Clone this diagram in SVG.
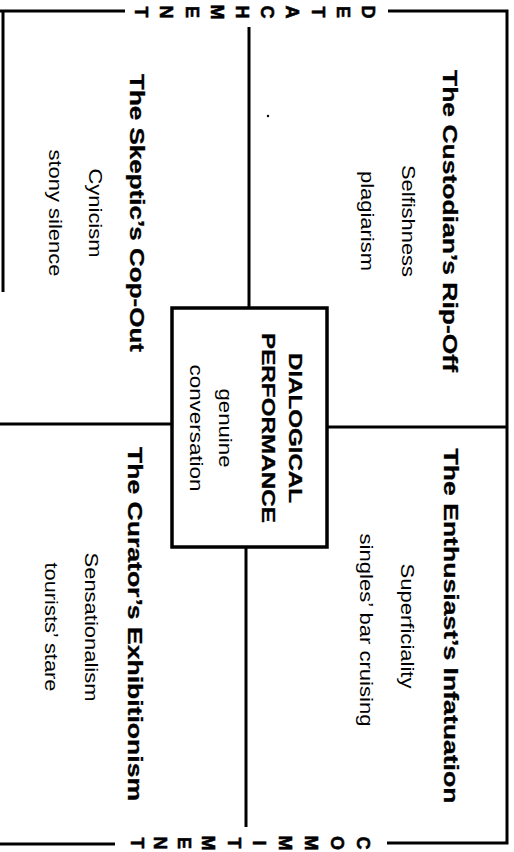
<svg xmlns="http://www.w3.org/2000/svg" width="514" height="852" viewBox="0 0 514 852">
<style>
.ln{stroke:#000;stroke-width:3;fill:none}
.t{font-family:"Liberation Sans",Arial,sans-serif;fill:#000;text-anchor:middle}
.b{font-weight:bold;font-size:20px;stroke:#000;stroke-width:0.3}
.cb{font-weight:bold;font-size:18.5px;stroke:#000;stroke-width:0.3}
.r{font-size:17.5px}
.lt{font-family:"Liberation Sans",Arial,sans-serif;font-weight:bold;font-size:18px;text-anchor:middle;fill:#000;stroke:#000;stroke-width:0.6}
</style>
<rect width="514" height="852" fill="#fff"/>
<g id="frame" class="ln">
<path d="M0 11 H125 M388 11 H507 V843 H387 M115 844 H0 M3 11 V292"/>
</g>
<g id="connectors" class="ln">
<path d="M249 27 V308"/>
<path d="M246 547 V827"/>
<path d="M0 424 H172"/>
<path d="M327 427 H507"/>
</g>
<g id="label-detachment">
<text class="lt" transform="translate(362,12) rotate(90)">D</text>
<text class="lt" transform="translate(337,12) rotate(90)">E</text>
<text class="lt" transform="translate(312,12) rotate(90)">T</text>
<text class="lt" transform="translate(286,12) rotate(90)">A</text>
<text class="lt" transform="translate(261,12) rotate(90)">C</text>
<text class="lt" transform="translate(236,12) rotate(90)">H</text>
<text class="lt" transform="translate(211,12) rotate(90)">M</text>
<text class="lt" transform="translate(186,12) rotate(90)">E</text>
<text class="lt" transform="translate(160,12) rotate(90)">N</text>
<text class="lt" transform="translate(135,12) rotate(90)">T</text>
</g>
<g id="label-commitment">
<text class="lt" transform="translate(357,843) rotate(90)">C</text>
<text class="lt" transform="translate(331,843) rotate(90)">O</text>
<text class="lt" transform="translate(305,843) rotate(90)">M</text>
<text class="lt" transform="translate(279,843) rotate(90)">M</text>
<text class="lt" transform="translate(253,843) rotate(90)">I</text>
<text class="lt" transform="translate(228,843) rotate(90)">T</text>
<text class="lt" transform="translate(202,843) rotate(90)">M</text>
<text class="lt" transform="translate(178,843) rotate(90)">E</text>
<text class="lt" transform="translate(154,843) rotate(90)">N</text>
<text class="lt" transform="translate(131,843) rotate(90)">T</text>
</g>
<g id="node-dialogical">
<rect x="172" y="308" width="155" height="239" fill="#fff" stroke="#000" stroke-width="3.5"/>
<text class="t cb" transform="translate(289,428) rotate(90)" textLength="150" lengthAdjust="spacingAndGlyphs">DIALOGICAL</text>
<text class="t cb" transform="translate(262,428) rotate(90)" textLength="190" lengthAdjust="spacingAndGlyphs">PERFORMANCE</text>
<text class="t r" transform="translate(219,428) rotate(90)" textLength="79" lengthAdjust="spacingAndGlyphs">genuine</text>
<text class="t r" transform="translate(190,428) rotate(90)" textLength="127" lengthAdjust="spacingAndGlyphs">conversation</text>
</g>
<g id="node-custodian">
<text class="t b" transform="translate(443,221) rotate(90)" textLength="302" lengthAdjust="spacingAndGlyphs">The Custodian’s Rip-Off</text>
<text class="t r" transform="translate(402,221) rotate(90)" textLength="112" lengthAdjust="spacingAndGlyphs">Selfishness</text>
<text class="t r" transform="translate(361,221) rotate(90)" textLength="100" lengthAdjust="spacingAndGlyphs">plagiarism</text>
</g>
<g id="node-skeptic">
<text class="t b" transform="translate(130,213) rotate(90)" textLength="278" lengthAdjust="spacingAndGlyphs">The Skeptic’s Cop-Out</text>
<text class="t r" transform="translate(89,213) rotate(90)" textLength="89" lengthAdjust="spacingAndGlyphs">Cynicism</text>
<text class="t r" transform="translate(49,213) rotate(90)" textLength="127" lengthAdjust="spacingAndGlyphs">stony silence</text>
</g>
<g id="node-enthusiast">
<text class="t b" transform="translate(444,626) rotate(90)" textLength="355" lengthAdjust="spacingAndGlyphs">The Enthusiast’s Infatuation</text>
<text class="t r" transform="translate(401,626) rotate(90)" textLength="125" lengthAdjust="spacingAndGlyphs">Superficiality</text>
<text class="t r" transform="translate(360,630) rotate(90)" textLength="193" lengthAdjust="spacingAndGlyphs">singles’ bar cruising</text>
</g>
<g id="node-curator">
<text class="t b" transform="translate(128,624) rotate(90)" textLength="354" lengthAdjust="spacingAndGlyphs">The Curator’s Exhibitionism</text>
<text class="t r" transform="translate(85,627) rotate(90)" textLength="149" lengthAdjust="spacingAndGlyphs">Sensationalism</text>
<text class="t r" transform="translate(45,627) rotate(90)" textLength="129" lengthAdjust="spacingAndGlyphs">tourists’ stare</text>
</g>
<circle cx="268" cy="116" r="1.2" fill="#000"/>
</svg>
